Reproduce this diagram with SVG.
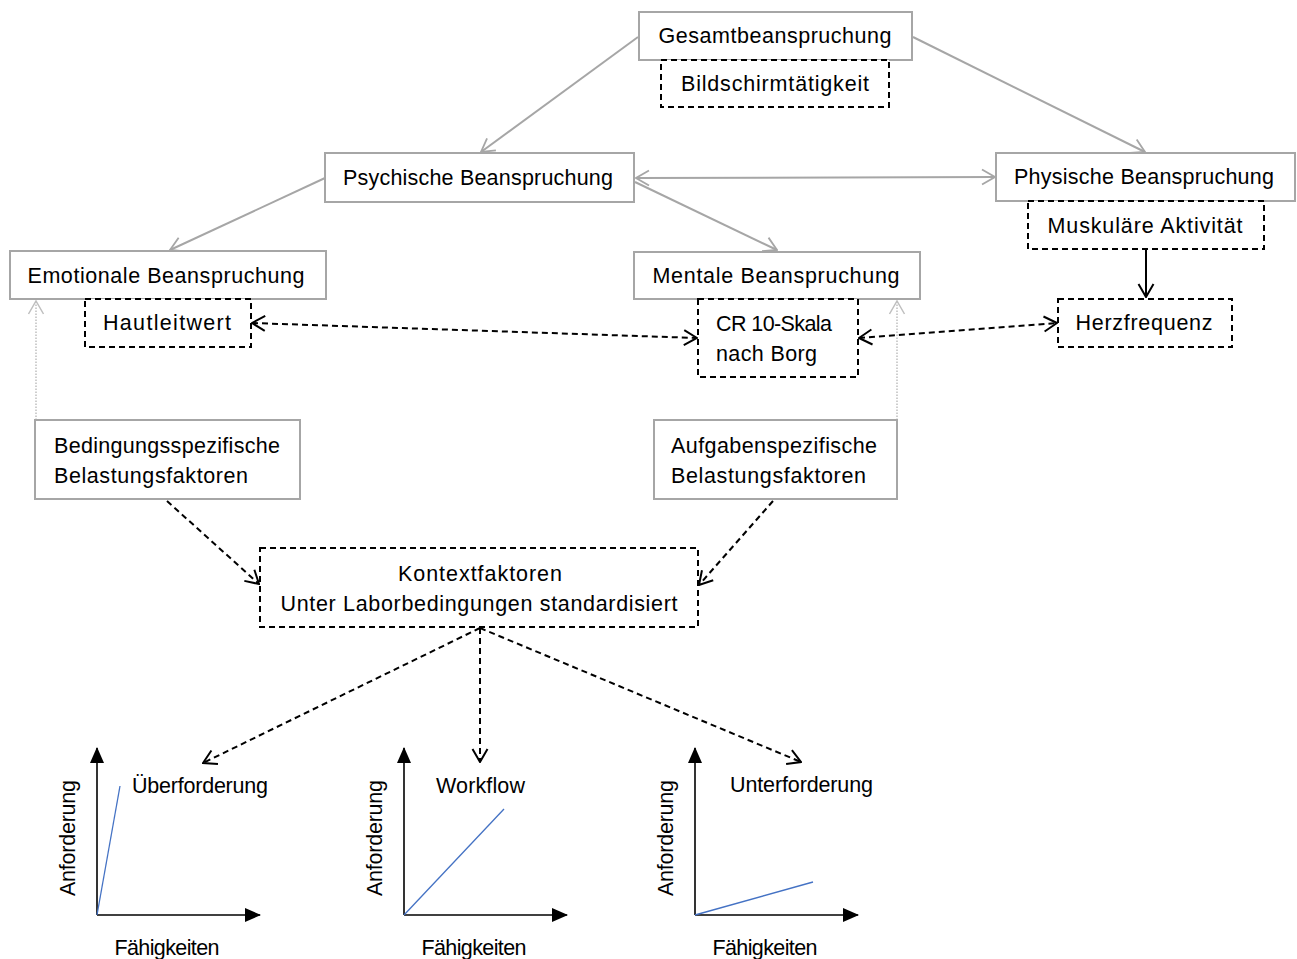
<svg xmlns="http://www.w3.org/2000/svg" width="1297" height="959" viewBox="0 0 1297 959">
<style>
text{font-family:"Liberation Sans",Arial,sans-serif;font-size:21.5px;fill:#000}
.box{fill:#fff;stroke:#a6a6a6;stroke-width:2}
.dbox{fill:#fff;stroke:#000;stroke-width:2;stroke-dasharray:6 4}
.g{stroke:#a6a6a6;stroke-width:2;fill:none}
.gd{stroke:#bfbfbf;stroke-width:1.5;fill:none;stroke-dasharray:1.5 1.5}
.k{stroke:#000;stroke-width:2;fill:none}
.kd{stroke:#000;stroke-width:2;fill:none;stroke-dasharray:6 4}
.ax{stroke:#000;stroke-width:1.6;fill:none}
.bl{stroke:#4472c4;stroke-width:1.3;fill:none}
.c{text-anchor:middle}
</style>
<defs>
<marker id="ag" viewBox="0 0 15 18" refX="14" refY="9" markerWidth="15" markerHeight="18" markerUnits="userSpaceOnUse" orient="auto-start-reverse"><path d="M1,1.5 L14,9 L1,16.5" fill="none" stroke="#a6a6a6" stroke-width="1.8"/></marker>
<marker id="al" viewBox="0 0 15 18" refX="14" refY="9" markerWidth="15" markerHeight="18" markerUnits="userSpaceOnUse" orient="auto-start-reverse"><path d="M1,1.5 L14,9 L1,16.5" fill="none" stroke="#bfbfbf" stroke-width="1.5"/></marker>
<marker id="ak" viewBox="0 0 15 18" refX="14" refY="9" markerWidth="15" markerHeight="18" markerUnits="userSpaceOnUse" orient="auto-start-reverse"><path d="M1,1.5 L14,9 L1,16.5" fill="none" stroke="#000" stroke-width="2"/></marker>
<marker id="af" viewBox="0 0 16 14" refX="15" refY="7" markerWidth="16" markerHeight="14" markerUnits="userSpaceOnUse" orient="auto"><path d="M0,0 L16,7 L0,14 z" fill="#000"/></marker>
</defs>
<rect width="1297" height="959" fill="#fff"/>

<g id="connectors">
<line class="g" x1="638" y1="37" x2="481" y2="152" marker-end="url(#ag)"/>
<line class="g" x1="913" y1="37" x2="1145" y2="152" marker-end="url(#ag)"/>
<line class="g" x1="325" y1="178" x2="170" y2="250" marker-end="url(#ag)"/>
<line class="g" x1="635" y1="182" x2="777" y2="250" marker-end="url(#ag)"/>
<line class="g" x1="636" y1="178" x2="995" y2="177" marker-start="url(#ag)" marker-end="url(#ag)"/>
<line class="k" x1="1146" y1="250" x2="1146" y2="297" marker-end="url(#ak)"/>
<line class="kd" x1="252" y1="323" x2="697" y2="338" marker-start="url(#ak)" marker-end="url(#ak)"/>
<line class="kd" x1="859" y1="338" x2="1057" y2="323" marker-start="url(#ak)" marker-end="url(#ak)"/>
<line class="gd" x1="36" y1="420" x2="36" y2="301" marker-end="url(#al)"/>
<line class="gd" x1="897" y1="420" x2="897" y2="301" marker-end="url(#al)"/>
<line class="kd" x1="167" y1="501" x2="259" y2="584" marker-end="url(#ak)"/>
<line class="kd" x1="773" y1="501" x2="699" y2="585" marker-end="url(#ak)"/>
<line class="kd" x1="480" y1="628" x2="203" y2="763" marker-end="url(#ak)"/>
<line class="kd" x1="480" y1="628" x2="480" y2="762" marker-end="url(#ak)"/>
<line class="kd" x1="480" y1="628" x2="801" y2="762" marker-end="url(#ak)"/>
</g>

<g id="gesamt"><rect class="box" x="639" y="12" width="273" height="48"/><text class="c" x="775" y="43" textLength="233">Gesamtbeanspruchung</text></g>
<g id="bildschirm"><rect class="dbox" x="661" y="60" width="228" height="47"/><text class="c" x="775" y="91" textLength="188">Bildschirmtätigkeit</text></g>
<g id="psychisch"><rect class="box" x="325" y="153" width="309" height="49"/><text class="c" x="478" y="185" textLength="270">Psychische Beanspruchung</text></g>
<g id="physisch"><rect class="box" x="996" y="153" width="299" height="48"/><text class="c" x="1144" y="184" textLength="260">Physische Beanspruchung</text></g>
<g id="muskel"><rect class="dbox" x="1028" y="201" width="236" height="48"/><text class="c" x="1145" y="233" textLength="195">Muskuläre Aktivität</text></g>
<g id="emotional"><rect class="box" x="10" y="251" width="316" height="48"/><text class="c" x="166" y="283" textLength="277">Emotionale Beanspruchung</text></g>
<g id="haut"><rect class="dbox" x="85" y="299" width="166" height="48"/><text class="c" x="167" y="330" textLength="128">Hautleitwert</text></g>
<g id="mental"><rect class="box" x="634" y="252" width="286" height="47"/><text class="c" x="776" y="283" textLength="247">Mentale Beanspruchung</text></g>
<g id="cr10"><rect class="dbox" x="698" y="299" width="160" height="78"/><text x="716" y="331" textLength="116">CR 10-Skala</text><text x="716" y="361" textLength="101">nach Borg</text></g>
<g id="herz"><rect class="dbox" x="1058" y="299" width="174" height="48"/><text class="c" x="1144" y="330" textLength="137">Herzfrequenz</text></g>
<g id="bedingung"><rect class="box" x="35" y="420" width="265" height="79"/><text x="54" y="453" textLength="226">Bedingungsspezifische</text><text x="54" y="483" textLength="194">Belastungsfaktoren</text></g>
<g id="aufgabe"><rect class="box" x="654" y="420" width="243" height="79"/><text x="671" y="453" textLength="206">Aufgabenspezifische</text><text x="671" y="483" textLength="195">Belastungsfaktoren</text></g>
<g id="kontext"><rect class="dbox" x="260" y="548" width="438" height="79"/><text class="c" x="480" y="581" textLength="164">Kontextfaktoren</text><text class="c" x="479" y="611" textLength="397">Unter Laborbedingungen standardisiert</text></g>

<g id="chart-ueber">
<line class="ax" x1="97" y1="915" x2="97" y2="748" marker-end="url(#af)"/>
<line class="ax" x1="97" y1="915" x2="260" y2="915" marker-end="url(#af)"/>
<line class="bl" x1="97" y1="915" x2="120" y2="786"/>
<text x="132" y="793" textLength="136">Überforderung</text>
<text class="c" x="167" y="955" textLength="105">Fähigkeiten</text>
<text class="c" transform="translate(75,838) rotate(-90)" textLength="116">Anforderung</text>
</g>
<g id="chart-workflow">
<line class="ax" x1="404" y1="915" x2="404" y2="748" marker-end="url(#af)"/>
<line class="ax" x1="404" y1="915" x2="567" y2="915" marker-end="url(#af)"/>
<line class="bl" x1="404" y1="915" x2="504" y2="809"/>
<text x="436" y="793" textLength="89">Workflow</text>
<text class="c" x="474" y="955" textLength="105">Fähigkeiten</text>
<text class="c" transform="translate(382,838) rotate(-90)" textLength="116">Anforderung</text>
</g>
<g id="chart-unter">
<line class="ax" x1="695" y1="915" x2="695" y2="748" marker-end="url(#af)"/>
<line class="ax" x1="695" y1="915" x2="858" y2="915" marker-end="url(#af)"/>
<line class="bl" x1="695" y1="915" x2="813" y2="882"/>
<text x="730" y="792" textLength="143">Unterforderung</text>
<text class="c" x="765" y="955" textLength="105">Fähigkeiten</text>
<text class="c" transform="translate(673,838) rotate(-90)" textLength="116">Anforderung</text>
</g>
</svg>
